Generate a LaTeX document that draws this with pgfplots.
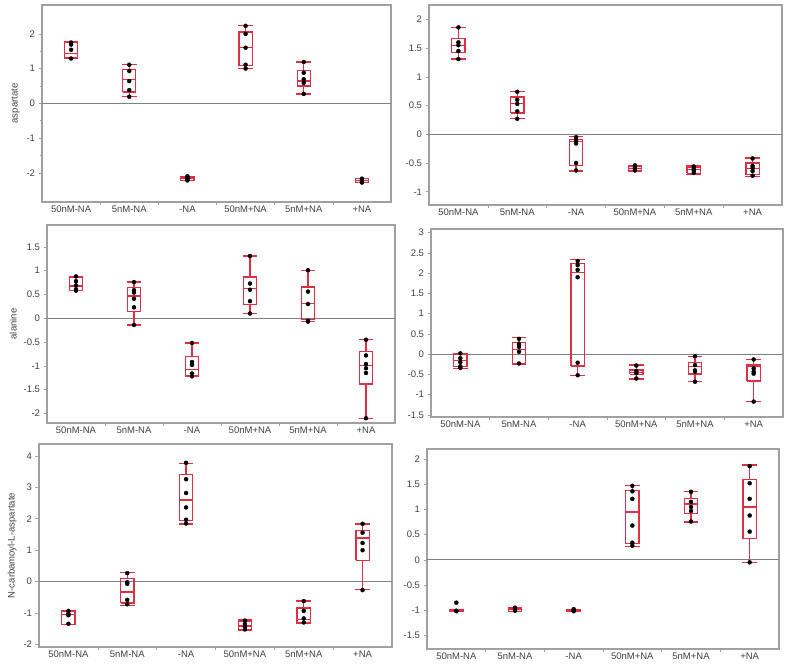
\documentclass[border=0pt]{standalone}
\usepackage{fontspec}
\setmainfont{Liberation Sans}
\usepackage{pgfplots}
\pgfplotsset{compat=1.18}
\definecolor{boxred}{RGB}{222,48,68}
\definecolor{framegray}{RGB}{160,160,160}
\definecolor{txtgray}{RGB}{64,64,64}
% box: position, lower whisker, lower quartile, median, upper quartile, upper whisker
\newcommand\bx[6]{\addplot[draw=boxred, line width=1.3pt, unbounded coords=jump, mark=none]
  table[row sep=\\, x expr=\thisrow{dx}+#1, y=y]
  {dx y\\ -0.113 #3\\ 0.113 #3\\ 0.113 #5\\ -0.113 #5\\ -0.113 #3\\ nan nan\\ -0.113 #4\\ 0.113 #4\\ nan nan\\
   0 #5\\ 0 #6\\ nan nan\\ -0.125 #6\\ 0.125 #6\\ nan nan\\ 0 #3\\ 0 #2\\ nan nan\\ -0.125 #2\\ 0.125 #2\\};}
\pgfplotsset{panel/.style={
  scale only axis, xmin=-0.5, xmax=5.5,
  xtick={0.5,1.5,2.5,3.5,4.5}, xticklabels={},
  extra x ticks={0,1,2,3,4,5},
  extra x tick labels={50nM-NA,5nM-NA,-NA,50nM+NA,5nM+NA,+NA},
  extra x tick style={major tick length=0pt},
  xtick pos=bottom, ytick pos=left, tick align=outside,
  major tick length=3.5pt, minor tick length=2pt,
  tick style={draw=framegray, line width=0.6pt},
  axis line style={draw=framegray, line width=1.1pt},
  ticklabel style={font=\fontsize{9.5}{11}\selectfont, text=txtgray},
  label style={font=\fontsize{9.5}{11}\selectfont, text=txtgray},
  /pgf/number format/assume math mode=true,
  clip=false,
}}
\newcommand\zeroline{\addplot[draw=gray, line width=0.8pt] coordinates {(-0.5,0) (5.5,0)};}
\newcommand\pts[2]{\addplot[only marks, mark=*, mark size=2pt, black] table[x expr=#1, y index=0, row sep=\\] {#2};}
\begin{document}
\begin{tikzpicture}[x=1pt,y=1pt]
\useasboundingbox (0,0) rectangle (787,666);
% Panel 1
\begin{axis}[panel, at={(42pt,464pt)}, anchor=south west, width=349pt, height=197pt,
  ymin=-2.84, ymax=2.83, ytick={-2,-1,0,1,2}, minor y tick num=1, ylabel={aspartate}]
\zeroline
\bx{0}{1.29}{1.30}{1.43}{1.75}{1.77}
\bx{1}{0.19}{0.33}{0.69}{0.97}{1.12}
\bx{2}{-2.22}{-2.22}{-2.15}{-2.10}{-2.10}
\bx{3}{1.00}{1.08}{1.60}{2.05}{2.23}
\bx{4}{0.27}{0.50}{0.64}{0.95}{1.19}
\bx{5}{-2.28}{-2.27}{-2.22}{-2.16}{-2.16}
\pts{0}{y\\1.75\\1.69\\1.54\\1.29\\}
\pts{1}{y\\1.11\\0.93\\0.64\\0.38\\0.19\\}
\pts{2}{y\\-2.10\\-2.13\\-2.17\\-2.20\\-2.22\\}
\pts{3}{y\\2.23\\2.00\\1.60\\1.11\\1.00\\}
\pts{4}{y\\1.19\\0.88\\0.69\\0.59\\0.27\\}
\pts{5}{y\\-2.17\\-2.21\\-2.24\\-2.28\\}
\end{axis}
% Panel 2
\begin{axis}[panel, at={(429pt,461pt)}, anchor=south west, width=353pt, height=200pt,
  ymin=-1.23, ymax=2.25, ytick={-1,-0.5,0,0.5,1,1.5,2}]
\zeroline
\bx{0}{1.31}{1.42}{1.54}{1.67}{1.86}
\bx{1}{0.27}{0.37}{0.53}{0.65}{0.74}
\bx{2}{-0.64}{-0.54}{-0.13}{-0.09}{-0.04}
\bx{3}{-0.64}{-0.64}{-0.59}{-0.55}{-0.54}
\bx{4}{-0.70}{-0.68}{-0.61}{-0.57}{-0.55}
\bx{5}{-0.74}{-0.70}{-0.60}{-0.50}{-0.41}
\pts{0}{y\\1.86\\1.60\\1.55\\1.45\\1.31\\}
\pts{1}{y\\0.74\\0.60\\0.53\\0.40\\0.27\\}
\pts{2}{y\\-0.05\\-0.10\\-0.16\\-0.50\\-0.63\\}
\pts{3}{y\\-0.54\\-0.58\\-0.61\\-0.63\\}
\pts{4}{y\\-0.56\\-0.60\\-0.63\\-0.67\\}
\pts{5}{y\\-0.42\\-0.55\\-0.59\\-0.64\\-0.72\\}
\end{axis}
% Panel 3
\begin{axis}[panel, at={(47pt,243pt)}, anchor=south west, width=348pt, height=198pt,
  ymin=-2.2, ymax=1.96, ytick={-2,-1.5,-1,-0.5,0,0.5,1,1.5}, ylabel={alanine}]
\zeroline
\bx{0}{0.58}{0.59}{0.68}{0.87}{0.88}
\bx{1}{-0.14}{0.14}{0.47}{0.65}{0.76}
\bx{2}{-1.22}{-1.20}{-1.08}{-0.81}{-0.52}
\bx{3}{0.10}{0.29}{0.62}{0.87}{1.31}
\bx{4}{-0.07}{-0.03}{0.31}{0.66}{1.01}
\bx{5}{-2.10}{-1.38}{-0.99}{-0.70}{-0.45}
\pts{0}{y\\0.88\\0.78\\0.69\\0.61\\0.58\\}
\pts{1}{y\\0.76\\0.59\\0.54\\0.41\\0.23\\-0.14\\}
\pts{2}{y\\-0.52\\-0.92\\-0.98\\-1.16\\-1.22\\}
\pts{3}{y\\1.31\\0.73\\0.60\\0.36\\0.10\\}
\pts{4}{y\\1.01\\0.56\\0.30\\-0.05\\-0.07\\}
\pts{5}{y\\-0.45\\-0.78\\-0.96\\-1.05\\-1.15\\-2.10\\}
\end{axis}
% Panel 4
\begin{axis}[panel, at={(431pt,249pt)}, anchor=south west, width=352pt, height=188pt,
  ymin=-1.55, ymax=3.09, ytick={-1.5,-1,-0.5,0,0.5,1,1.5,2,2.5,3}]
\zeroline
\bx{0}{-0.35}{-0.31}{-0.15}{-0.01}{0.02}
\bx{1}{-0.24}{-0.23}{0.12}{0.29}{0.41}
\bx{2}{-0.52}{-0.29}{2.01}{2.23}{2.34}
\bx{3}{-0.61}{-0.50}{-0.45}{-0.39}{-0.27}
\bx{4}{-0.68}{-0.49}{-0.31}{-0.20}{-0.05}
\bx{5}{-1.17}{-0.66}{-0.29}{-0.25}{-0.13}
\pts{0}{y\\0.02\\-0.10\\-0.20\\-0.30\\-0.34\\}
\pts{1}{y\\0.38\\0.25\\0.18\\0.06\\-0.23\\}
\pts{2}{y\\2.30\\2.20\\2.08\\1.90\\-0.21\\-0.52\\}
\pts{3}{y\\-0.28\\-0.42\\-0.47\\-0.60\\}
\pts{4}{y\\-0.05\\-0.27\\-0.40\\-0.43\\-0.68\\}
\pts{5}{y\\-0.13\\-0.35\\-0.43\\-0.48\\-1.17\\}
\end{axis}
% Panel 5
\begin{axis}[panel, at={(39pt,19pt)}, anchor=south west, width=353pt, height=203pt,
  ymin=-2.08, ymax=4.38, ytick={-2,-1,0,1,2,3,4}, ylabel={N-carbamoyl-L-aspartate}]
\zeroline
\bx{0}{-1.36}{-1.36}{-1.04}{-0.94}{-0.93}
\bx{1}{-0.77}{-0.68}{-0.33}{0.10}{0.28}
\bx{2}{1.83}{1.94}{2.60}{3.41}{3.77}
\bx{3}{-1.55}{-1.53}{-1.41}{-1.26}{-1.22}
\bx{4}{-1.33}{-1.32}{-1.20}{-0.84}{-0.62}
\bx{5}{-0.26}{0.68}{1.39}{1.63}{1.83}
\pts{0}{y\\-0.93\\-1.02\\-1.07\\-1.34\\}
\pts{1}{y\\0.27\\-0.02\\-0.07\\-0.58\\-0.72\\}
\pts{2}{y\\3.78\\3.26\\2.82\\2.36\\1.97\\1.85\\}
\pts{3}{y\\-1.24\\-1.35\\-1.44\\-1.52\\}
\pts{4}{y\\-0.62\\-0.93\\-1.17\\-1.30\\}
\pts{5}{y\\1.84\\1.56\\1.23\\1.00\\-0.27\\}
\end{axis}
% Panel 6
\begin{axis}[panel, at={(427pt,17pt)}, anchor=south west, width=352pt, height=200pt,
  ymin=-1.77, ymax=2.2, ytick={-1.5,-1,-0.5,0,0.5,1,1.5,2}]
\zeroline
\bx{0}{-1.02}{-1.02}{-1.00}{-0.98}{-0.98}
\bx{1}{-1.03}{-1.03}{-0.98}{-0.96}{-0.95}
\bx{2}{-1.02}{-1.02}{-1.00}{-0.98}{-0.98}
\bx{3}{0.27}{0.32}{0.95}{1.38}{1.48}
\bx{4}{0.75}{0.92}{1.11}{1.22}{1.36}
\bx{5}{-0.05}{0.42}{1.05}{1.60}{1.88}
\pts{0}{y\\-0.85\\-1.01\\-1.02\\}
\pts{1}{y\\-0.95\\-0.98\\-1.01\\}
\pts{2}{y\\-0.98\\-1.00\\-1.02\\}
\pts{3}{y\\1.47\\1.36\\1.21\\0.68\\0.34\\0.28\\}
\pts{4}{y\\1.35\\1.15\\1.05\\0.97\\0.76\\}
\pts{5}{y\\1.86\\1.52\\1.21\\0.88\\0.56\\-0.05\\}
\end{axis}
\end{tikzpicture}
\end{document}
